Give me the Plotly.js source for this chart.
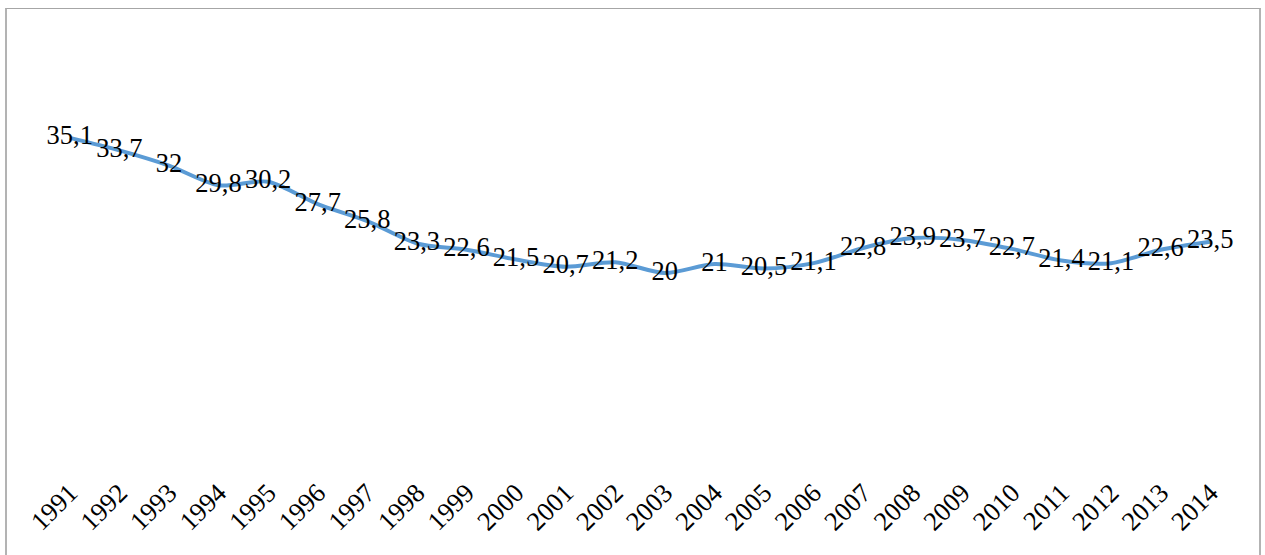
<!DOCTYPE html>
<html>
<head>
<meta charset="utf-8">
<script src="https://cdn.plot.ly/plotly-3.0.1.min.js"></script>
<style>
html,body{margin:0;padding:0;width:1265px;height:555px;overflow:hidden;background:#fff;}
#frame{position:absolute;left:5px;top:8px;width:1252px;height:600px;border-left:2px solid #b3b3b3;border-right:2px solid #b3b3b3;border-top:1px solid #a6a6a6;}
#chart{position:absolute;left:0;top:0;width:1265px;height:555px;}
</style>
</head>
<body>
<div id="frame"></div>
<div id="chart"></div>
<script>
var years = ["1991","1992","1993","1994","1995","1996","1997","1998","1999","2000","2001","2002","2003","2004","2005","2006","2007","2008","2009","2010","2011","2012","2013","2014"];
var values = [35.1,33.7,32,29.8,30.2,27.7,25.8,23.3,22.6,21.5,20.7,21.2,20,21,20.5,21.1,22.8,23.9,23.7,22.7,21.4,21.1,22.6,23.5];
var labels = values.map(function(v){ return String(v).replace('.', ','); });

var serif = 'Liberation Serif, Times New Roman, serif';

var trace = {
  x: years,
  y: values,
  type: 'scatter',
  mode: 'lines+text',
  text: labels,
  textposition: 'middle center',
  textfont: {family: serif, size: 26.5, color: '#000'},
  line: {color: '#5B9BD5', width: 4, shape: 'spline', smoothing: 0.8},
  cliponaxis: false,
  hoverinfo: 'none'
};

var layout = {
  width: 1265,
  height: 555,
  margin: {l: 45, r: 30, t: 94, b: 103},
  paper_bgcolor: 'rgba(0,0,0,0)',
  plot_bgcolor: 'rgba(0,0,0,0)',
  showlegend: false,
  font: {family: serif},
  xaxis: {
    type: 'category',
    range: [-0.5, 23.5],
    showgrid: false,
    zeroline: false,
    showline: false,
    ticks: '',
    tickangle: -45,
    ticklabelstandoff: 19,
    tickfont: {family: serif, size: 26.5, color: '#000'}
  },
  yaxis: {
    range: [0, 40],
    showgrid: false,
    zeroline: false,
    showline: false,
    showticklabels: false,
    ticks: ''
  }
};

Plotly.newPlot('chart', [trace], layout, {displayModeBar: false, staticPlot: true});
</script>
</body>
</html>
